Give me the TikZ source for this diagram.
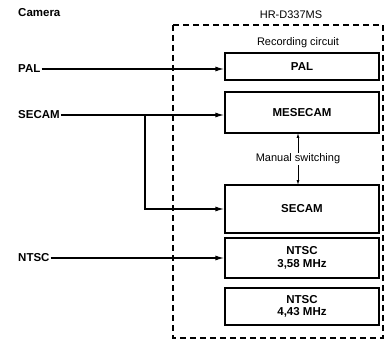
\documentclass[tikz,border=0pt]{standalone}
\usepackage{fontspec}
\setmainfont{Liberation Sans}
\usetikzlibrary{arrows.meta}

\tikzset{
    circuitbox/.style={draw, line width=1.3pt, minimum width=154pt, inner sep=0pt, align=center, font=\bfseries\fontsize{11.5}{12.5}\selectfont},
    sourcelabel/.style={inner sep=1pt, font=\bfseries\fontsize{11.5}{12.5}\selectfont},
    feedline/.style={line width=1.3pt, -{Latex[length=9pt,width=5pt]}},
    switchline/.style={line width=0.8pt, -{Latex[length=5pt,width=3pt]}}
}

\begin{document}
\begin{tikzpicture}[x=1pt,y=-1pt]
    \useasboundingbox (0,0) rectangle (388,342);

    % Recorder outline
    \draw[line width=1.1pt, dash pattern=on 6pt off 4pt] (173,25) rectangle (383,338);
    \node[sourcelabel, font=\fontsize{11}{12}\selectfont] (recorder) at (291,15) {HR-D337MS};
    \node[sourcelabel, font=\fontsize{11}{12}\selectfont] (recording) at (298,43) {Recording circuit};

    % Recording circuits
    \node[circuitbox, minimum height=27pt] (palBox) at (302,66.5) {PAL};
    \node[circuitbox, minimum height=41pt] (mesecamBox) at (302,112.5) {MESECAM};
    \node[circuitbox, minimum height=48pt] (secamBox) at (302,209) {SECAM};
    \node[circuitbox, minimum height=40pt] (ntscABox) at (302,258) {NTSC\\3,58 MHz};
    \node[circuitbox, minimum height=37pt] (ntscBBox) at (302,306.5) {NTSC\\4,43 MHz};

    % Camera signals
    \node[sourcelabel, anchor=west] (camera) at (17,13) {Camera};
    \node[sourcelabel, anchor=west] (palIn) at (17,69) {PAL};
    \node[sourcelabel, anchor=west] (secamIn) at (17,115) {SECAM};
    \node[sourcelabel, anchor=west] (ntscIn) at (17,258) {NTSC};

    \draw[feedline] (palIn.east) -- (palBox.west |- palIn.east);
    \draw[feedline] (secamIn.east) -- (mesecamBox.west |- secamIn.east);
    \coordinate (branch) at (145,115);
    \draw[feedline] (branch) |- (secamBox.west);
    \draw[feedline] (ntscIn.east) -- (ntscABox.west |- ntscIn.east);

    % Manual switching
    \node[font=\fontsize{11}{12}\selectfont, inner sep=1pt] (manual) at (298,159) {Manual switching};
    \draw[switchline] (manual.north -| 298,0) -- (298,133);
    \draw[switchline] (manual.south -| 298,0) -- (298,185);

\end{tikzpicture}
\end{document}
